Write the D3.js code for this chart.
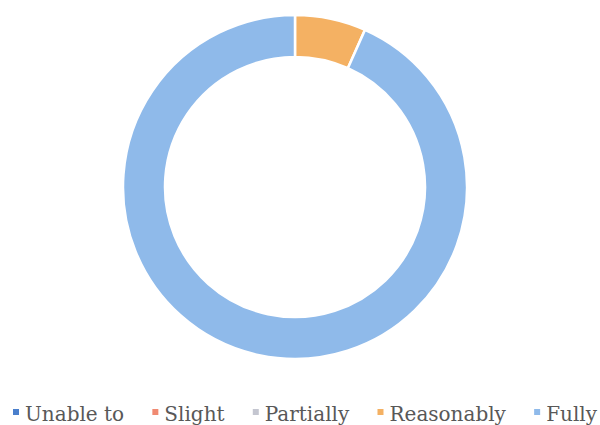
<!DOCTYPE html>
<html>
  <head>
    <title>Donut</title>
    <script src="https://d3js.org/d3.v7.min.js" charset="utf-8"></script>
    <style>
    body {
        margin: 0;
        background: #fff;
        overflow: hidden;
    }
    .legend text {
        font-family: "DejaVu Serif", serif;
        font-size: 20px;
        fill: #585858;
    }
    </style>
  </head>

  <body>
    <script>
var categories = ["Unable to", "Slight", "Partially", "Reasonably", "Fully"];
var values = [0, 0, 0, 1, 14];
var colours = ["#4a7fcc", "#f08a72", "#c4c6d0", "#f4b163", "#8fbaea"];

var width = 600;
var height = 425;

var svg = d3.select("body")
  .append("svg")
  .attr("width", width)
  .attr("height", height);

var colour = d3.scaleOrdinal().domain(categories).range(colours);

var pie = d3.pie()
  .sort(null)
  .value(function(d, i) { return values[i]; });

var arc = d3.arc()
  .innerRadius(130)
  .outerRadius(172);

var g = svg.append("g")
  .attr("transform", "translate(295,187)");

g.selectAll("path")
  .data(pie(categories))
  .enter()
  .append("path")
  .filter(function(d) { return d.value > 0; })
  .attr("d", arc)
  .attr("fill", function(d) { return colour(d.data); })
  .attr("stroke", "#fff")
  .attr("stroke-width", 2.5);

// legend, spread from x=13 to x=597 like the original
var legend = svg.append("g").attr("class", "legend");

var items = legend.selectAll("g")
  .data(categories)
  .enter()
  .append("g");

items.append("rect")
  .attr("width", 6)
  .attr("height", 6)
  .attr("y", -12)
  .attr("fill", function(d) { return colour(d); });

items.append("text")
  .attr("x", 12)
  .text(function(d) { return d; });

var widths = [];
items.each(function() {
  widths.push(12 + d3.select(this).select("text").node().getComputedTextLength());
});
var gap = (584 - d3.sum(widths)) / (widths.length - 1);
var x = 0;
items.attr("transform", function(d, i) {
  var t = "translate(" + x + ",0)";
  x += widths[i] + gap;
  return t;
});
legend.attr("transform", "translate(13,421)");

    </script>
  </body>
</html>
